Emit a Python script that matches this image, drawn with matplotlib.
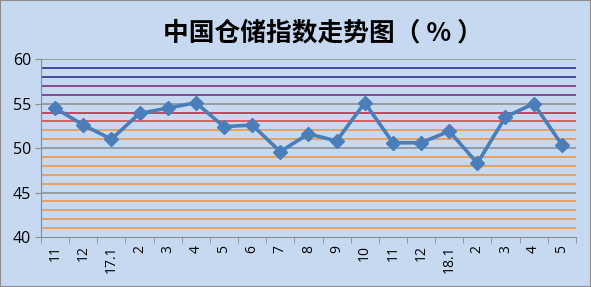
import numpy as np
import matplotlib.pyplot as plt
from matplotlib.patches import Rectangle

plt.rcParams['font.family'] = ['Open Sans', 'DejaVu Sans']

# 数据
labels = ['11', '12', '17.1', '2', '3', '4', '5', '6', '7', '8', '9', '10',
          '11', '12', '18.1', '2', '3', '4', '5']
values = [54.5, 52.6, 51.0, 53.9, 54.5, 55.1, 52.4, 52.6, 49.6, 51.6, 50.8, 55.1,
          50.6, 50.6, 51.9, 48.3, 53.5, 55.0, 50.4]

bg = '#C6D9F1'
fig = plt.figure(figsize=(5.91, 2.87), dpi=100, facecolor=bg)
ax = fig.add_axes([0.0694, 0.174, 0.905, 0.620])
ax.set_facecolor(bg)

# 横向网格线，不同颜色
grid_colors = {59: '#1F1F8F', 58: '#1F1F8F', 57: '#7A1F7A', 56: '#7A1F7A',
               54: '#C0203A', 53: '#E0403A'}
for v in range(41, 60):
    if v % 5 == 0:
        c = '#8C8C8C'
    else:
        c = grid_colors.get(v, '#F0913A')
    ax.axhline(v, color=c, lw=1.1, zorder=1)
ax.axhline(60, color='#8C8C8C', lw=1.1, zorder=1)

x = np.arange(len(values))
ax.plot(x, values, color='#4A7EBB', lw=2.6, marker='D', ms=7.5,
        markerfacecolor='#4A7EBB', markeredgecolor='#4A7EBB', zorder=3)

ax.set_xlim(-0.5, len(values) - 0.5)
ax.set_ylim(40, 60)
ax.set_yticks([40, 45, 50, 55, 60])
ax.set_xticks(x)
ax.set_xticklabels(labels, rotation=90, fontsize=10)
ax.tick_params(axis='y', labelsize=11.5, length=4, color='#8C8C8C', pad=3)
ax.tick_params(axis='x', which='major', length=0, pad=6)
ax.set_xticks(np.arange(-0.5, len(values)), minor=True)
ax.tick_params(axis='x', which='minor', length=4, color='#8C8C8C')

for s in ['top', 'right']:
    ax.spines[s].set_visible(False)
ax.spines['left'].set_color('#8C8C8C')
ax.spines['bottom'].set_color('#8C8C8C')

fig.text(0.547, 0.885, '中国仓储指数走势图（ % ）', ha='center', va='center',
         fontsize=18.5, fontweight='heavy',
         family=['Noto Sans CJK SC', 'DejaVu Sans'])

fig.patches.append(Rectangle((0, 0), 1, 1, transform=fig.transFigure,
                             fill=False, edgecolor='#8C8C8C', lw=1.5))

plt.savefig('out.png', dpi=100, facecolor=bg)
